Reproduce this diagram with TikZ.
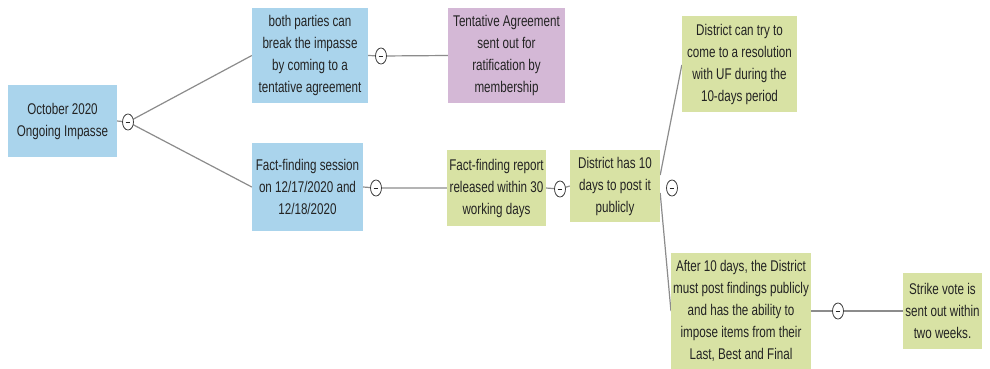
\documentclass[tikz,border=0pt]{standalone}
\usepackage{fontspec}
\usetikzlibrary{shapes.geometric}
\setmainfont{Liberation Sans}[FakeStretch=0.75]
\definecolor{bluebox}{RGB}{170,212,236}
\definecolor{purplebox}{RGB}{212,184,214}
\definecolor{greenbox}{RGB}{216,226,164}
\definecolor{linegray}{RGB}{140,140,140}
\definecolor{txt}{RGB}{35,35,35}
\pgfdeclarelayer{bglayer}
\pgfdeclarelayer{connlayer}
\pgfsetlayers{bglayer,connlayer,main}
\begin{document}
\begin{tikzpicture}[x=1pt,y=-1pt,
  box/.style={rectangle, align=center, inner sep=2pt, text=txt,
    font=\fontsize{15.5}{22}\selectfont},
  bbox/.style={box, fill=bluebox},
  pbox/.style={box, fill=purplebox},
  gbox/.style={box, fill=greenbox},
  toggle/.style={ellipse, draw=black!75, fill=white, line width=0.8pt,
    minimum width=11pt, minimum height=16pt, inner sep=0pt,
    path picture={\draw[black!85, line width=0.9pt] ([xshift=-2.3pt]path picture bounding box.center) -- ([xshift=2.3pt]path picture bounding box.center);}},
  conn/.style={draw=linegray, line width=1.2pt}]
\useasboundingbox (0,0) rectangle (990,368);
\begin{pgfonlayer}{bglayer}
\fill[white] (0,0) rectangle (990,368);
\end{pgfonlayer}

\node[bbox, minimum width=109pt, minimum height=72pt] (root) at (62.5,121) {October 2020\\Ongoing Impasse};
\node[bbox, minimum width=116pt, minimum height=95pt] (both) at (310,55.5) {both parties can\\break the impasse\\by coming to a\\tentative agreement};
\node[pbox, minimum width=117pt, minimum height=95pt] (tent) at (506.5,55.5) {Tentative Agreement\\sent out for\\ratification by\\membership};
\node[bbox, minimum width=111pt, minimum height=88pt] (ffs) at (307.5,187) {Fact-finding session\\on 12/17/2020 and\\12/18/2020};
\node[gbox, minimum width=97pt, minimum height=76pt] (ffr) at (496.5,188) {Fact-finding report\\released within 30\\working days};
\node[gbox, minimum width=90pt, minimum height=72pt] (d10) at (615,186) {District has 10\\days to post it\\publicly};
\node[gbox, minimum width=115pt, minimum height=96pt] (dct) at (739.5,64) {District can try to\\come to a resolution\\with UF during the\\10-days period};
\node[gbox, minimum width=118pt, minimum height=116pt] (a10) at (741,311) {After 10 days, the District\\must post findings publicly\\and has the ability to\\impose items from their\\Last, Best and Final};
\node[gbox, minimum width=75pt, minimum height=76pt] (sv) at (942.5,311) {Strike vote is\\sent out within\\two weeks.};

\node[toggle] (c0) at (128,122) {};
\node[toggle] (c1) at (381,56) {};
\node[toggle] (c2) at (376,188) {};
\node[toggle] (c3) at (560,189) {};
\node[toggle] (c4) at (672,188) {};
\node[toggle] (c5) at (838,311) {};

\begin{pgfonlayer}{connlayer}
\path[conn] (root.east) -- (c0.center);
\path[conn] (c0.center) -- (both.west);
\path[conn] (c0.center) -- (ffs.west);
\path[conn] (both.east) -- (c1.center) -- (tent.west);
\path[conn] (ffs.east) -- (c2.center) -- (ffr.west);
\path[conn] (ffr.east) -- (c3.center) -- (d10.west);
\path[conn] ([yshift=11pt]d10.east) -- ([yshift=-1pt]dct.west);
\path[conn] ([yshift=-7pt]d10.east) -- (a10.west);
\path[conn] (a10.east) -- (c5.center) -- (sv.west);
\end{pgfonlayer}
\end{tikzpicture}
\end{document}
